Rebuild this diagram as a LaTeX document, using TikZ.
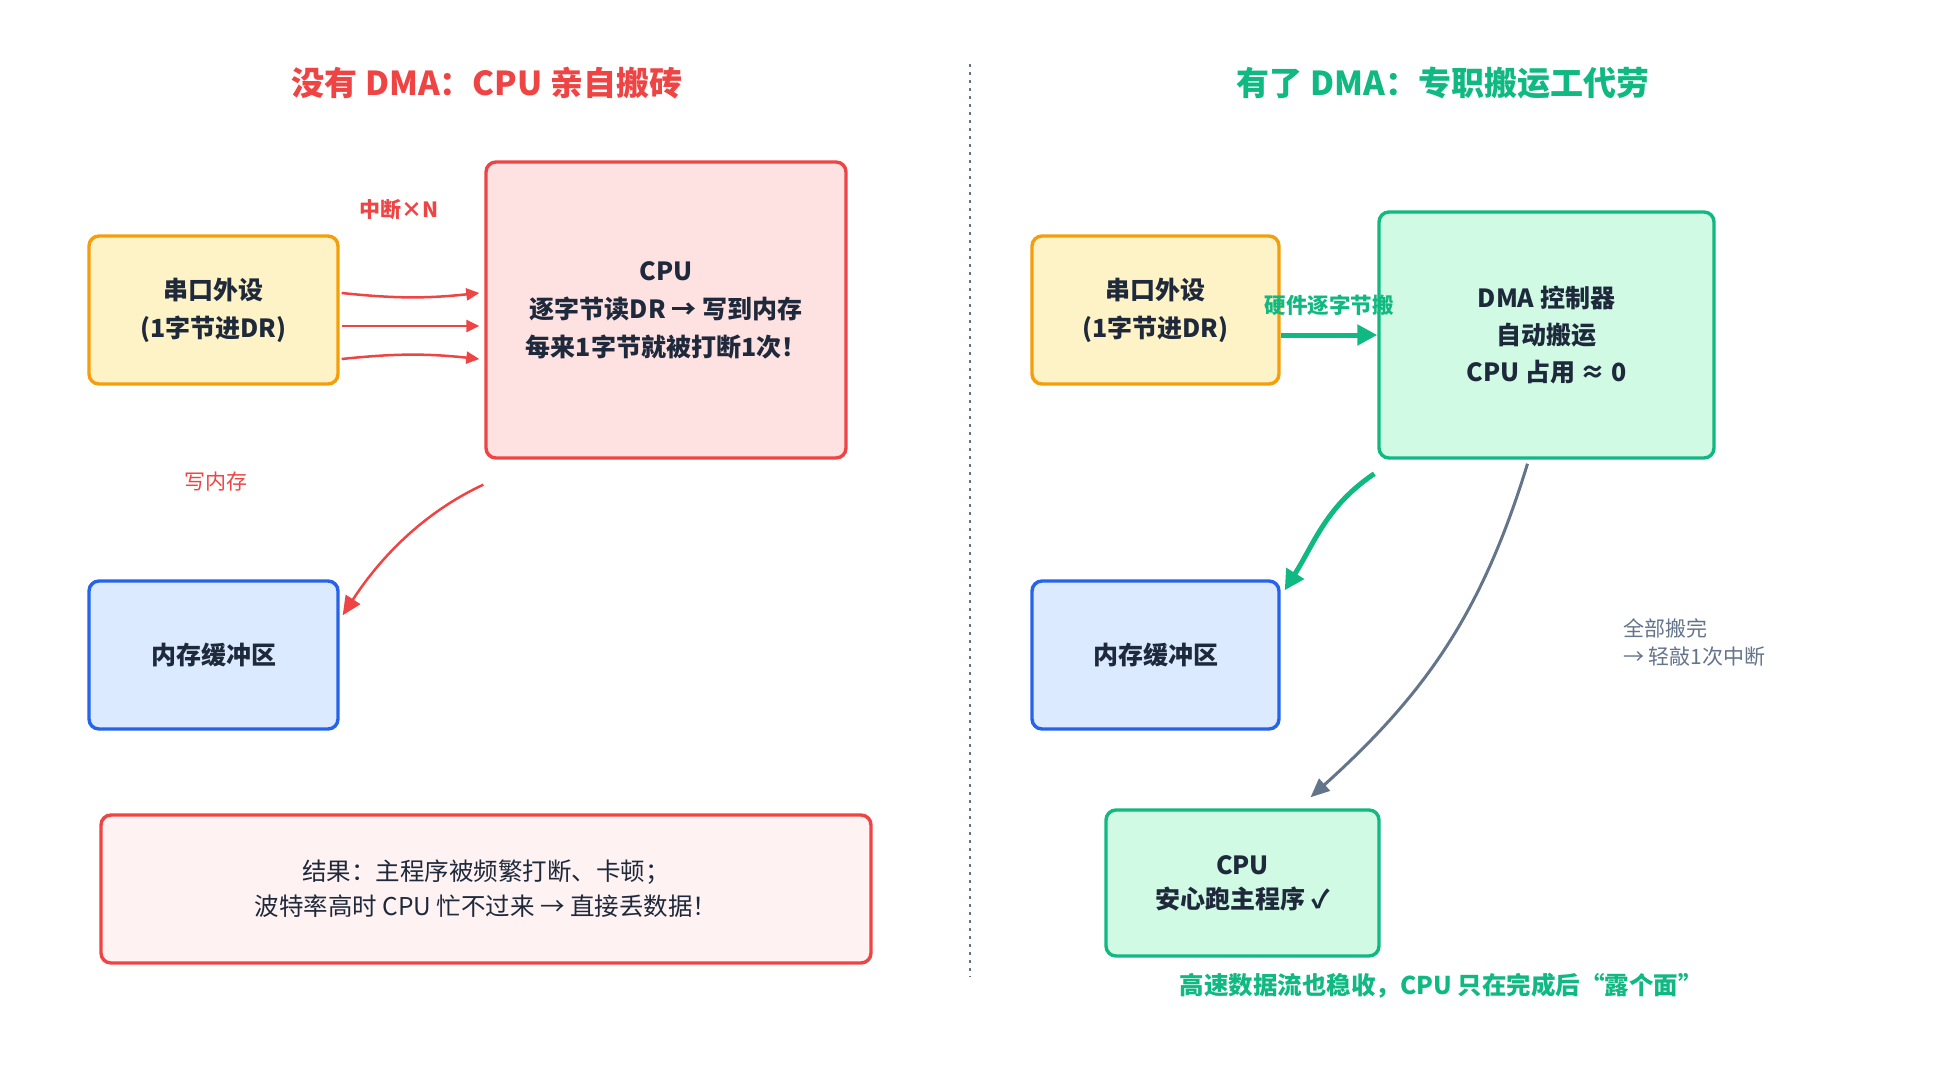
\documentclass[tikz,border=0pt]{standalone}
\usepackage{fontspec}
\setmainfont{Noto Sans CJK SC}
\usetikzlibrary{arrows.meta,calc}
\definecolor{redc}{HTML}{EF4444}
\definecolor{redfill}{HTML}{FEE2E2}
\definecolor{redlight}{HTML}{FEF2F2}
\definecolor{orangec}{HTML}{F59E0B}
\definecolor{orangefill}{HTML}{FEF3C7}
\definecolor{bluec}{HTML}{2563EB}
\definecolor{bluefill}{HTML}{DBEAFE}
\definecolor{greenc}{HTML}{10B981}
\definecolor{greenfill}{HTML}{D1FAE5}
\definecolor{inkc}{HTML}{1E293B}
\definecolor{grayc}{HTML}{64748B}
\tikzset{
  box/.style={draw, line width=3.4pt, rounded corners=10pt, align=center, text=inkc,
    font=\bfseries\fontsize{25}{38}\selectfont, inner sep=0pt},
  titletext/.style={font=\bfseries\fontsize{33}{40}\selectfont, inner sep=0pt},
  lbl/.style={font=\fontsize{21}{28}\selectfont, inner sep=0pt, align=left},
  redarrow/.style={draw=redc, line width=2.5pt, -{Triangle[length=13pt,width=12pt]}},
  redarrowbig/.style={draw=redc, line width=2.5pt, -{Triangle[length=19pt,width=17pt]}},
  greenarrow/.style={draw=greenc, line width=5pt, -{Triangle[length=20pt,width=20pt]}},
  grayarrow/.style={draw=grayc, line width=3pt, -{Triangle[length=19pt,width=16pt]}},
}
\begin{document}
\begin{tikzpicture}[x=1pt,y=1pt]
\useasboundingbox[fill=white] (0,0) rectangle (1940,-1065);
% titles
\node[titletext, text=redc] (titleL) at (487,-83) {没有 DMA：CPU 亲自搬砖};
\node[titletext, text=greenc] (titleR) at (1443,-83) {有了 DMA：专职搬运工代劳};
% divider
\draw[grayc, line width=2pt, dash pattern=on 3pt off 5pt] (970,-64) -- (970,-977);
% left side
\node[box, draw=orangec, fill=orangefill, minimum width=249pt, minimum height=148pt] (serL) at (213.5,-310) {串口外设\\(1字节进DR)};
\node[box, draw=redc, fill=redfill, minimum width=360pt, minimum height=296pt] (cpuL) at (666,-310) {CPU\\逐字节读DR → 写到内存\\每来1字节就被打断1次！};
\node[box, draw=bluec, fill=bluefill, minimum width=249pt, minimum height=148pt] (memL) at (213.5,-655) {内存缓冲区};
\node[box, draw=redc, fill=redlight, font=\fontsize{24.5}{35}\selectfont, minimum width=770pt, minimum height=148pt] (result) at (486,-889) {结果：主程序被频繁打断、卡顿；\\波特率高时 CPU 忙不过来 → 直接丢数据！};
\node[lbl, text=redc, font=\bfseries\fontsize{21}{28}\selectfont] (lblInt) at (399,-210) {中断×N};
\node[lbl, text=redc] (lblWrite) at (216,-482) {写内存};
\draw[redarrow] ($(serL.east)+(2,17)$) to[bend right=6] ($(cpuL.west)+(-5,17)$);
\draw[redarrow] ($(serL.east)+(2,-16)$) -- ($(cpuL.west)+(-5,-16)$);
\draw[redarrow] ($(serL.east)+(2,-49)$) to[bend left=6] ($(cpuL.west)+(-5,-49)$);
\draw[redarrowbig] ($(cpuL.south west)+(-1,-25)$) to[out=205,in=57,looseness=0.9] ($(memL.north east)+(3,-36)$);
% right side
\node[box, draw=orangec, fill=orangefill, minimum width=247pt, minimum height=148pt] (serR) at (1155.5,-310) {串口外设\\(1字节进DR)};
\node[box, draw=greenc, fill=greenfill, font=\bfseries\fontsize{25}{37}\selectfont, minimum width=335pt, minimum height=246pt] (dma) at (1546.5,-335) {DMA 控制器\\自动搬运\\CPU 占用 ≈ 0};
\node[box, draw=bluec, fill=bluefill, minimum width=247pt, minimum height=148pt] (memR) at (1155.5,-655) {内存缓冲区};
\node[box, draw=greenc, fill=greenfill, font=\bfseries\fontsize{25}{34}\selectfont, minimum width=273pt, minimum height=146pt] (cpuR) at (1242.5,-883) {CPU\\安心跑主程序 ✓};
\node[lbl, text=greenc, font=\bfseries\fontsize{21.5}{28}\selectfont] (lblHw) at (1329,-305) {硬件逐字节搬};
\node[lbl, text=grayc, anchor=west] (lblDone) at (1623,-642) {全部搬完\\→ 轻敲1次中断};
\node[lbl, text=greenc, font=\bfseries\fontsize{24.5}{30}\selectfont] (caption) at (1441,-986) {高速数据流也稳收，CPU 只在完成后“露个面”};
\draw[greenarrow] (serR.east |- dma.west) -- (dma.west);
\draw[greenarrow] ($(dma.south west)+(-3,-14)$) to[out=214,in=58] ($(memR.north east)+(4,-11)$);
\draw[grayarrow] ($(dma.south)+(-19,-4)$) to[out=253,in=42] ($(cpuR.north)+(68,11)$);
\end{tikzpicture}
\end{document}
